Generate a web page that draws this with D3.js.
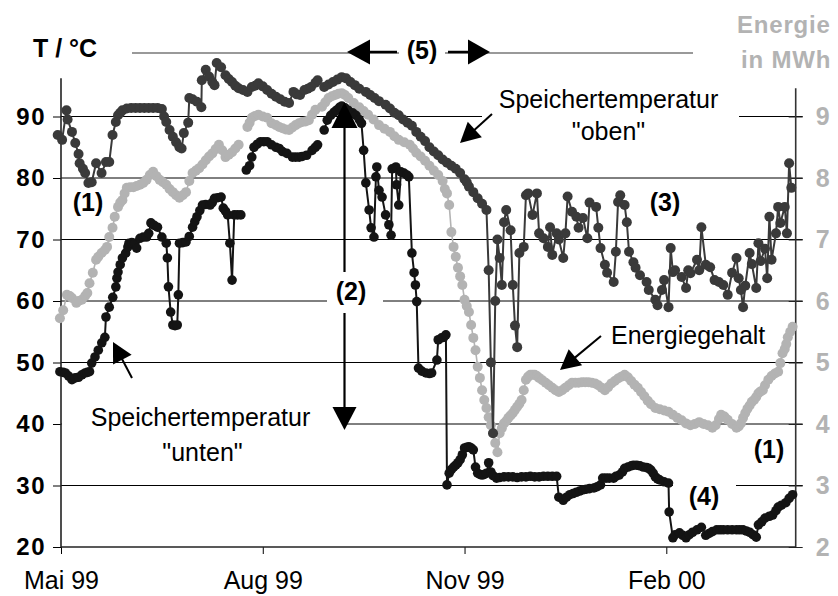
<!DOCTYPE html>
<html><head><meta charset="utf-8">
<script src="https://cdn.jsdelivr.net/npm/d3@7"></script>
<style>
html,body{margin:0;padding:0;background:#fff;}
svg{display:block;font-family:"Liberation Sans",Arial,Helvetica,sans-serif;}
</style></head><body>
<svg id="chart" width="838" height="596"></svg>
<script>
// Time axis: days counted from 1 May 1999
const startDate = Date.UTC(1999, 4, 1);
const endDate = Date.UTC(2000, 2, 31);
const monthTicks = [Date.UTC(1999, 4, 1), Date.UTC(1999, 7, 1), Date.UTC(1999, 10, 1), Date.UTC(2000, 1, 1)];
const monthLabels = ["Mai 99", "Aug 99", "Nov 99", "Feb 00"];
const tempTicks = [20, 30, 40, 50, 60, 70, 80, 90];
const energyTicks = [2, 3, 4, 5, 6, 7, 8, 9];

// Speichertemperatur "oben" [day, °C]  (null = no measurement)
const obenTemp = [
  [-1.5,87],[0.5,86.2],[2.5,91],[3,89.5],[5,87.5],[6.5,85.7],[8,83.9],[8.5,82.4],[10,81.5],[11,80.8],
  [12.5,79.2],[14,79.3],[16,82.4],[18.5,80.8],[20.5,82.6],[22,82.6],[23.5,87],[25,89.1],[26,90.2],[27,90.6],
  [28,91],[30,91.3],[32,91.4],[34,91.4],[36,91.4],[38,91.4],[40,91.4],[42,91.4],[44,91.4],[46,91.2],
  [47,90],[48,89.1],[49.5,87.8],[51,86.7],[52.5,85.8],[54,85],[55,84.8],[56,87.3],[58,89],[58.5,93],
  [60,92.8],[62,92.4],[64,91.5],[64.2,95.9],[66,97.6],[67.5,96.5],[69,95.6],[70,95.1],[71,98.7],[73,98],
  [75,96.7],[76.5,96.1],[78,95.6],[79.5,95],[81,94.6],[83,94.3],[85,94],[87,94.8],[88.5,95],[90,95.4],
  [92,94.9],[94,94.3],[96,93.7],[98,93.2],[100,92.8],[102,92.4],[104,92.2],[106,94],[107.5,93.6],[109,93.5],
  [111,94.3],[112.5,94.5],[114,94.8],[116,95.5],[117,95.9],null,
  [120,94.8],[122,95.2],[124,95.6],[126,96],[128,96.4],[130,96.2],[132,95.6],[134,95.1],[136,94.5],[139,94],
  [141,93.5],[143,93],[145,92.5],[148,91.9],[150,91.3],[152,90.6],[154,90.2],[156,89.5],[158,89],[160,88.5],
  [162,87.5],[164,86.7],[166,86],[168,85],[170,84.3],[172,83.7],[174,83],[176,82.5],[178,82],[180,81.5],
  [182,80.8],[184,79.8],[185,79.3],[186,78.6],[188,77.7],[190,76.7],[192,75.8],[194,74.8],
  [195,65],[196,50],[197,38.5],[198,60],[199,70],[200,67],[201,62.6],[202,72.8],[203,74.8],[205,71.5],
  [206,62.6],[207,56],[208,52.5],[209,67.8],[211,68.8],[212,77.2],[213,77.5],[215,74],[217,77.5],[218,71],
  [220,70.2],[222,68.8],[223,72],[224,67.5],[226,71],[227,70],[229,67],[230,71],[231,77],[233,74.5],
  [235,73.7],[236,71.9],[238,73.5],[240,70.2],[241,76],[244,75.3],[245,71.9],[246,68.6],[248,65.9],[249,64.6],
  [252,63.1],[253,68],[254,76.1],[255,77.2],[257,75.6],[258,72.8],[259,68],[261,66.3],[262,65.4],[264,64.2],
  [267,63.1],[268,61.8],[271,60.2],[272,59.3],[274,61.8],[275,63.4],[277,59],[278,68.6],[279,64.7],[280,65],
  [283,63.9],[285,62.1],[286,65],[287,64.5],[290,66.7],[291,65],[292,72],[294,65.9],[296,65.5],[298,63.4],
  [300,63.1],[302,62.6],[304,61],[306,64.6],[308,67],[309,63.7],[310,61.8],[311,59],[312,62.5],[314,67.8],
  [315,66],[317,62.1],[318,69.4],[319,66.5],[321,68.5],[322,63.7],[323,73.7],[324,66.7],[326,71],[327,75.3],
  [328,72.7],[330,75.3],[331,71],[332,82.4],[333,78.4]
];

// Speichertemperatur "unten" [day, °C]
const untenTemp = [
  [-0.5,48.5],[1,48.4],[2,48.3],[3.5,47.8],[5,47.2],[6.5,47.5],[8,47.6],[9.5,48],[11,48.3],[12,48.4],
  [13,48.5],[14,49.9],[15.5,50.9],[17,52],[18.6,53.2],[20,54.1],[20.5,57.4],[22,59],[23.6,60.6],[25,62.3],
  [25.5,63.7],[26,64.7],[27,65.9],[28,67],[29.5,67.8],[30.5,68.8],[31,69.4],[32.3,69.5],[33.6,69.4],[34.5,68.6],
  [36,70.2],[37.5,70.4],[39,70.4],[40,71],[41,72.7],[42.5,72.3],[44,72],[46,70.4],[48,69.4],[48.5,67],
  [49,62.3],[50,58.2],[51,56.1],[52,56],[53,56.1],[53.5,61],[54,69.4],[55.5,69.5],[57,69.6],[58.5,70.5],
  [60,72],[61,72.9],[62,73.7],[63.3,74.7],[64.5,75.6],[66,75.7],[68,75.6],[69,76],[70,76.7],[71.5,76.8],
  [73,76.9],[74,75.1],[75,74.6],[76,74],[77,69.4],[78,63.4],[79,74],[80.5,74],[82,74],null,
  [84.5,81.3],[86,82],[87,83.4],[88,85],[89.5,85.5],[91,85.9],[92.5,85.9],[94,85.9],[96,85.4],[98,85],
  [99.5,84.8],[101,84.3],[103,84],[105.5,83.4],[107,83.4],[108.6,83.4],[110,83.5],[112,83.7],[114.5,84.5],[116,85],
  [117,85.4],null,
  [120,87.8],[121.4,89.4],[123,90.2],[124.5,90.7],[125.5,91],[127,91.5],[128,91.7],[129.5,91.4],[131,91],[133,90.6],
  [134.5,90.2],[136,89.5],[137,88.9],[138,84.5],[139,79.2],[140.5,74.8],[141.4,71.9],[142.7,70.4],[143.6,80.2],[144,81.8],
  [145,78],[146.4,76.9],[148,74],[149.5,72.4],[150.5,70.7],[151,81.5],[152.7,81.8],[153,78.9],[154,75.6],[155,81],
  [156.4,80.8],[157.7,80.5],[158.6,80.2],[160,67.8],[161,64.6],[161.6,62.6],[162.2,59.9],[163,49.1],[164.5,48.6],[166.4,48.3],
  [168,48.2],[169,48.3],[171.4,50.4],[172,53.7],[173.5,54],[174.5,54.1],[175.5,54.5],[176,30.1],[177,32],[178,32.6],
  [179,33],[180,33.3],[181,33.7],[182,34.2],[183,35],[184,36.1],[185,36.2],[186,36.3],[187,36.1],[188,35.8],
  [189,33],[190,32],[191,31.8],[192,31.7],[193,31.8],[194,32],[195,33.7],[196,32.2],[197,31.6],[198.6,31.2],
  [200,31.3],[202,31.4],[204,31.4],[206,31.4],[208,31.3],[210,31.4],[212,31.4],[214,31.5],[216,31.4],[218,31.4],
  [220,31.5],[222,31.5],[224,31.5],[226,31.5],[227,28.1],[229,27.6],[230.5,28.1],[232,28.5],[233.5,28.7],[235,28.9],
  [236.5,29.1],[238,29.3],[239.5,29.4],[241,29.5],[243,29.6],[244.5,29.8],[246,30.1],[247,31.2],[248.5,31.2],[250,31.2],
  [252,31.2],[253,31.5],[254.5,31.7],[256,32.2],[257,32.8],[258.5,33],[260,33.2],[261,33.3],[262.5,33.3],[264,33.2],
  [265.5,33],[267,32.9],[268,32.8],[269,32.5],[270,32],[271,31.4],[272,31.1],[273,30.9],[275,30.6],[277,30.4],
  [277.3,25.7],[279,21.5],[280,22],[282,22.3],[283.5,21.9],[285,21.5],[286.5,22],[288,22.4],[290,22.8],[292,23.2],null,
  [294,21.9],[295.5,22.2],[297,22.5],[299,22.8],[300.5,22.8],[302,22.8],[304,22.8],[306,22.8],[308,22.8],[309.5,22.8],
  [311,22.8],[312.5,22.6],[314,22.4],[315.5,22],[317,21.6],[318,23.6],[319.5,24.1],[321,24.7],[323,25],[324.5,25.2],
  [326,25.9],[327,26.5],[328.5,26.8],[330.5,27.2],[332,27.9],[333.6,28.5]
];

// Energiegehalt [day, MWh]
const energyContent = [
  [-0.5,5.72],[1,5.85],[2.7,6.1],[4,6.08],[5,6.05],[7,5.97],[8,6.0],[9.5,6.02],[11,6.08],[12,6.13],
  [13,6.29],[14.5,6.46],[16,6.67],[17,6.72],[18.5,6.78],[20,6.83],[21,6.88],[22,7.04],[23.5,7.19],[24.5,7.37],
  [26,7.53],[27,7.6],[28,7.64],[29,7.75],[30,7.84],[31.5,7.85],[33,7.85],[34.5,7.87],[36,7.89],[37.5,7.92],
  [39,7.97],[40.5,8.05],[42,8.1],[43.5,8.03],[45,7.97],[46.5,7.93],[48,7.89],[49.5,7.82],[51,7.77],[52.5,7.72],
  [54,7.68],[55.5,7.72],[57,7.77],[58.5,7.95],[60,8.08],[61.5,8.12],[63,8.16],[64.5,8.22],[66,8.29],[67.5,8.35],
  [69,8.4],[70.5,8.47],[72,8.54],[73.5,8.45],[75,8.34],[76.5,8.38],[78,8.42],[79.5,8.48],[81,8.54],null,
  [85,8.83],[86,8.9],[87,8.98],[88.5,9.01],[90,9.03],[92,9.0],[94,8.98],[96,8.89],[98,8.86],[99.5,8.83],
  [101,8.81],[102.5,8.79],[104,8.78],[105.5,8.82],[107,8.86],[108.5,8.89],[110,8.91],[111.5,8.92],[113,8.94],[114.5,9.03],
  [116,9.11],[119,9.16],[120.5,9.23],[122,9.3],[123.5,9.33],[125,9.35],[126.5,9.37],[128,9.38],[129.5,9.35],[131,9.3],
  [133.5,9.22],[136,9.15],[138,9.09],[140,9.03],[142.5,8.95],[145,8.86],[147.5,8.8],[150,8.75],[152,8.68],[154,8.62],
  [156.5,8.58],[159,8.54],[160.5,8.48],[162,8.41],[164,8.35],[166,8.28],[168,8.2],[170,8.12],[172,8.05],[174,7.95],
  [175,7.82],[176,7.75],[177,7.56],[178,7.12],[179,6.88],[180,6.72],[181,6.54],[182,6.4],[183,6.26],[184,6.02],
  [185,5.92],[186,5.82],[187,5.61],[188,5.4],[189,5.2],[190,4.93],[191,4.75],[192,4.55],[193,4.39],[194,4.26],
  [195,4.11],[196,3.98],[197,3.85],[198,3.69],[199,3.54],[200,3.85],[201,3.93],[202,4.01],[203,4.05],[204,4.1],
  [205,4.14],[206,4.18],[207,4.23],[208,4.28],[209,4.33],[210,4.39],[211,4.55],[212,4.72],[213,4.77],[214,4.8],
  [215,4.8],[216,4.8],[217,4.78],[218,4.75],[219.5,4.71],[221,4.67],[222.5,4.63],[224,4.59],[225.5,4.55],[227,4.52],
  [228.5,4.55],[230,4.59],[231.5,4.63],[233,4.67],[234.5,4.67],[236,4.67],[237.5,4.68],[239,4.68],[240.5,4.68],[242,4.67],
  [243.5,4.66],[245,4.63],[246.5,4.59],[248,4.55],[249.5,4.6],[251,4.66],[252.5,4.7],[254,4.74],[255.5,4.77],[257,4.8],
  [258.5,4.76],[260,4.7],[261.5,4.64],[263,4.59],[264.5,4.52],[266,4.45],[267.5,4.38],[269,4.32],[271,4.26],[273,4.24],
  [275,4.22],[277,4.2],[279,4.15],[281,4.1],[283,4.06],[285,4.01],[287,3.98],[289,4.0],[291,4.03],[293,4.0],
  [295,3.98],[297,3.94],[298.5,3.98],[300,4.08],[301,4.15],[302.5,4.12],[304,4.07],[306,4.0],[308,3.94],[309,3.96],
  [310,4.01],[311,4.1],[312,4.18],[313,4.25],[314,4.3],[315,4.36],[316,4.39],[317,4.44],[318,4.5],[319,4.53],
  [320,4.55],[321,4.63],[322.5,4.72],[324,4.78],[325.5,4.82],[327,4.85],[328,4.99],[329,5.15],[330,5.22],[330.7,5.3],
  [331.4,5.41],[332.5,5.5],[333.6,5.58]
];

const svg = d3.select("#chart");
const FONT = '"Liberation Sans", Arial, Helvetica, sans-serif';
const L = 61, R = 795.7, B = 547, T = 55;

const x = d3.scaleUtc().domain([new Date(startDate), new Date(endDate)]).range([L, R]);
const yT = d3.scaleLinear().domain([20, 100]).range([B, T]);
const yE = d3.scaleLinear().domain([2, 10]).range([B, T]);
const dayToDate = d => new Date(startDate + d * 864e5);

svg.append("rect").attr("width", 838).attr("height", 596).attr("fill", "#fff");

// horizontal gridlines (temperature scale)
svg.append("g").selectAll("line").data(tempTicks.filter(t => t > 20)).join("line")
  .attr("x1", L).attr("x2", R + 7)
  .attr("y1", d => yT(d)).attr("y2", d => yT(d))
  .attr("stroke", "#000").attr("stroke-width", 1);

// white panels behind annotation labels
const panels = [
  [327, 276, 56, 34],   // (2)
  [673, 478, 63, 38],   // (4)
  [482, 84, 257, 64],   // Speichertemperatur "oben"
  [62, 398, 283, 70]    // Speichertemperatur "unten"
];
svg.append("g").selectAll("rect").data(panels).join("rect")
  .attr("x", d => d[0]).attr("y", d => d[1]).attr("width", d => d[2]).attr("height", d => d[3])
  .attr("fill", "#fff");

// left axis (°C)
const leftAxis = d3.axisLeft(yT).tickValues(tempTicks).tickSize(8).tickPadding(7).tickFormat(d3.format("d"));
const gl = svg.append("g").attr("transform", `translate(${L},0)`).call(leftAxis);
gl.select(".domain").remove();
gl.selectAll(".tick line").attr("stroke", "#000").attr("stroke-width", 1);
gl.selectAll(".tick text").attr("font-family", FONT).attr("font-size", 24).attr("font-weight", "bold")
  .attr("fill", "#000").attr("letter-spacing", 1.5);
svg.append("line").attr("x1", L).attr("x2", L).attr("y1", B).attr("y2", yT(96.2))
  .attr("stroke", "#222").attr("stroke-width", 1.6);

// right axis (MWh)
const rightAxis = d3.axisRight(yE).tickValues(energyTicks).tickSize(7).tickPadding(13).tickFormat(d3.format("d"));
const gr = svg.append("g").attr("transform", `translate(${R},0)`).call(rightAxis);
gr.select(".domain").remove();
gr.selectAll(".tick line").attr("stroke", "#222").attr("x1", -7).attr("stroke-width", 1);
gr.selectAll(".tick text").attr("font-family", FONT).attr("font-size", 25).attr("font-weight", "bold")
  .attr("fill", "#b3b3b3");
svg.append("line").attr("x1", R).attr("x2", R).attr("y1", B).attr("y2", yE(9.46))
  .attr("stroke", "#333").attr("stroke-width", 1.6);

// bottom time axis
const bottomAxis = d3.axisBottom(x).tickValues(monthTicks.map(d => new Date(d))).tickSize(7).tickPadding(17)
  .tickFormat((d, i) => monthLabels[i]);
const gb = svg.append("g").attr("transform", `translate(0,${B})`).call(bottomAxis);
gb.select(".domain").remove();
gb.selectAll(".tick line").attr("stroke", "#000").attr("stroke-width", 1);
gb.selectAll(".tick text").attr("font-family", FONT).attr("font-size", 25).attr("fill", "#000");
svg.append("line").attr("x1", L).attr("x2", R).attr("y1", B).attr("y2", B)
  .attr("stroke", "#222").attr("stroke-width", 1.6);

// data series
function drawSeries(data, yScale, color, width, r) {
  const g = svg.append("g");
  const line = d3.line().defined(d => d !== null)
    .x(d => x(dayToDate(d[0]))).y(d => yScale(d[1]));
  g.append("path").datum(data).attr("d", line).attr("fill", "none")
    .attr("stroke", color).attr("stroke-width", width).attr("stroke-linejoin", "round");
  g.selectAll("circle").data(data.filter(d => d !== null)).join("circle")
    .attr("cx", d => x(dayToDate(d[0]))).attr("cy", d => yScale(d[1])).attr("r", r)
    .attr("fill", color);
}
drawSeries(energyContent, yE, "#b3b3b3", 1.6, 5);
drawSeries(obenTemp, yT, "#3a3a3a", 2, 5);
drawSeries(untenTemp, yT, "#141414", 2, 4.8);

// arrows
function arrow(x1, y1, x2, y2, len, wid, sw) {
  const a = Math.atan2(y2 - y1, x2 - x1);
  const bx = x2 - len * Math.cos(a), by = y2 - len * Math.sin(a);
  const px = -Math.sin(a) * wid / 2, py = Math.cos(a) * wid / 2;
  svg.append("line").attr("x1", x1).attr("y1", y1).attr("x2", bx + Math.cos(a)).attr("y2", by + Math.sin(a))
    .attr("stroke", "#000").attr("stroke-width", sw);
  svg.append("path").attr("d", `M${x2},${y2}L${bx + px},${by + py}L${bx - px},${by - py}Z`).attr("fill", "#000");
}

// (5) period marker
svg.append("line").attr("x1", 132).attr("x2", 693).attr("y1", 53).attr("y2", 53)
  .attr("stroke", "#999").attr("stroke-width", 2);
svg.append("rect").attr("x", 399).attr("y", 38).attr("width", 46).attr("height", 30).attr("fill", "#fff");
arrow(397, 52, 347, 52, 23, 25, 2.5);
arrow(448, 52, 490, 52, 22, 25, 2.5);

// (2) vertical arrows
arrow(344.5, 272, 344.5, 102, 26, 26, 2.2);
arrow(344.5, 313, 344.5, 430, 23, 24, 2.2);

arrow(492, 114, 460, 143, 20, 21, 2);   // to "oben"
arrow(601, 336, 560, 370, 20, 21, 2);   // to Energiegehalt
arrow(132, 378, 113, 342, 20, 21, 2);   // to "unten"

// texts
function label(txt, xx, yy, opts = {}) {
  svg.append("text").attr("x", xx).attr("y", yy).text(txt)
    .attr("font-family", FONT)
    .attr("font-size", opts.size || 25)
    .attr("font-weight", opts.bold ? "bold" : "normal")
    .attr("fill", opts.fill || "#000")
    .attr("text-anchor", opts.anchor || "start")
    .attr("letter-spacing", opts.ls || 0);
}
label("T / °C", 33, 57, {bold: true});
label("(5)", 422, 59, {bold: true, anchor: "middle"});
label("Energie", 737, 33, {bold: true, fill: "#b3b3b3", size: 24, ls: 0.8});
label("in MWh", 741, 68, {bold: true, fill: "#b3b3b3", size: 24, ls: 0.8});
label("Speichertemperatur", 608.5, 108, {anchor: "middle"});
label("\"oben\"", 608.5, 140, {anchor: "middle"});
label("Speichertemperatur", 200.5, 426, {anchor: "middle"});
label("\"unten\"", 202.5, 461, {anchor: "middle"});
label("Energiegehalt", 611, 344);
label("(1)", 88, 211, {bold: true, anchor: "middle"});
label("(2)", 351, 300, {bold: true, anchor: "middle"});
label("(3)", 665, 211, {bold: true, anchor: "middle"});
label("(4)", 704, 505, {bold: true, anchor: "middle"});
label("(1)", 769, 458, {bold: true, anchor: "middle"});
</script></body></html>
